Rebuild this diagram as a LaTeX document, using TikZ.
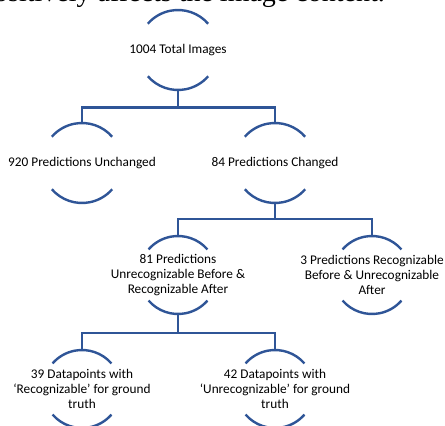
\documentclass[tikz,border=0pt]{standalone}
\usepackage{fontspec}
\setmainfont{Carlito}
\newfontfamily\serifcap{Liberation Serif}
\definecolor{treeblue}{RGB}{47,85,151}
\tikzset{
  lbl/.style={align=center, inner sep=0pt, font=\fontsize{13.3}{14.6}\selectfont, text=black},
  tline/.style={draw=treeblue, line width=2.4pt},
}
\newcommand{\arcpair}[2]{%
  \draw[tline] ([shift={(41:#2pt)}]#1.center) arc[start angle=41,end angle=139,radius=#2pt];
  \draw[tline] ([shift={(221:#2pt)}]#1.center) arc[start angle=221,end angle=319,radius=#2pt];
}
\begin{document}
\begin{tikzpicture}[x=1pt,y=-1pt]
\useasboundingbox (0,0) rectangle (445,426);
\clip (0,0) rectangle (445,426);
% cut-off caption line at the top
\node[anchor=base east, inner sep=0pt, font=\serifcap\fontsize{28}{30}\selectfont] (cap) at (385,1.5) {positively affects the image content.};
% nodes
\node[lbl] (n1) at (178,50) {1004 Total Images};
\node[lbl] (n2) at (82,163) {920 Predictions Unchanged};
\node[lbl] (n3) at (275,163) {84 Predictions Changed};
\node[lbl] (n4) at (178,275) {81 Predictions\\Unrecognizable Before \&\\Recognizable After};
\node[lbl] (n5) at (372,275) {3 Predictions Recognizable\\Before \& Unrecognizable\\After};
\node[lbl] (n6) at (82,389) {39 Datapoints with\\`Recognizable' for ground\\truth};
\node[lbl] (n7) at (275,389) {42 Datapoints with\\`Unrecognizable' for ground\\truth};
% arcs
\arcpair{n1}{40}
\arcpair{n2}{40}
\arcpair{n3}{40}
\arcpair{n4}{39}
\arcpair{n5}{39}
\arcpair{n6}{39}
\arcpair{n7}{39}
% connectors
\draw[tline] ([yshift=-40pt]n1.center) -- ++(0,17.5) coordinate (b1) -| ([yshift=40pt]n2.center);
\draw[tline] (b1) -| ([yshift=40pt]n3.center);
\draw[tline] ([yshift=-40pt]n3.center) -- ++(0,16) coordinate (b2) -| ([yshift=39pt]n4.center);
\draw[tline] (b2) -| ([yshift=39pt]n5.center);
\draw[tline] ([yshift=-39pt]n4.center) -- ++(0,19) coordinate (b3) -| ([yshift=39pt]n6.center);
\draw[tline] (b3) -| ([yshift=39pt]n7.center);
\end{tikzpicture}
\end{document}
